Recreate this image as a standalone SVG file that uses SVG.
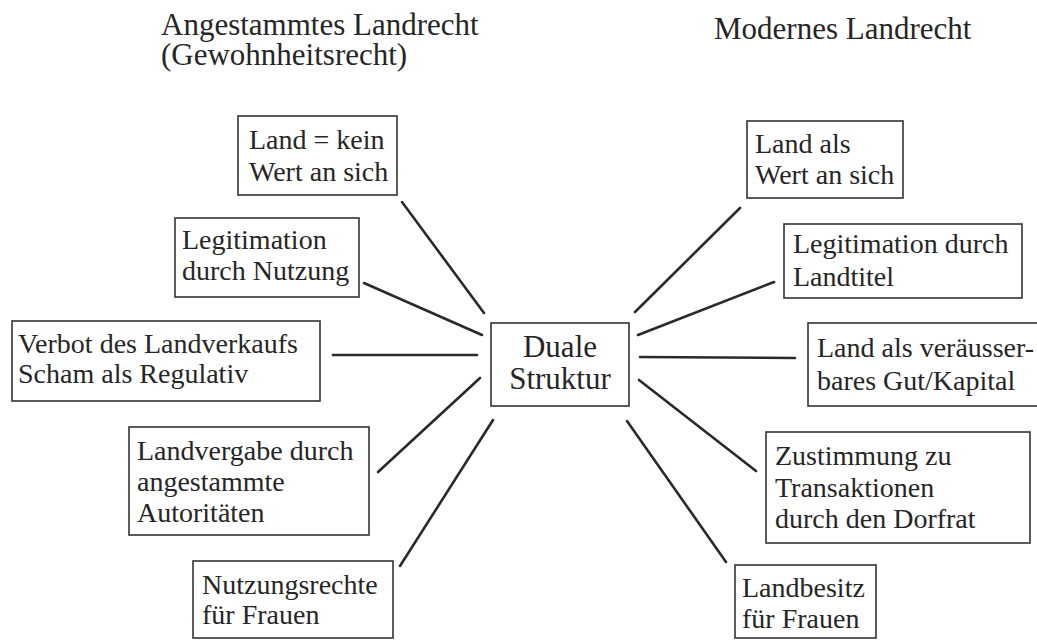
<svg xmlns="http://www.w3.org/2000/svg" width="1037" height="640" viewBox="0 0 1037 640" font-family="'Liberation Serif', 'DejaVu Serif', Tinos, 'Times New Roman', Times, serif">
<style>
text{font-family:'Liberation Serif','DejaVu Serif',Tinos,'Times New Roman',Times,serif;fill:#262626}
.t{font-size:28px}
.h{font-size:31px}
.c{font-size:31px;text-anchor:middle}
rect{fill:#fff;stroke:#333;stroke-width:1.6}
#connectors line{stroke:#2a2a2a;stroke-width:2.6;stroke-linecap:round}
</style>
<rect x="0" y="0" width="1037" height="640" style="stroke:none;fill:#fff"/>
<g id="titles">
<text class="h" x="161" y="35">Angestammtes Landrecht</text>
<text class="h" x="161" y="65">(Gewohnheitsrecht)</text>
<text class="h" x="714" y="39">Modernes Landrecht</text>
</g>
<g id="connectors">
<line x1="402" y1="202" x2="484" y2="313"/>
<line x1="364" y1="283" x2="482" y2="335"/>
<line x1="333" y1="355" x2="477" y2="355"/>
<line x1="378" y1="472" x2="480" y2="378"/>
<line x1="400" y1="566" x2="493" y2="420"/>
<line x1="740" y1="208" x2="635" y2="312"/>
<line x1="774" y1="282" x2="638" y2="335"/>
<line x1="640" y1="357" x2="795" y2="358"/>
<line x1="639" y1="380" x2="756" y2="471"/>
<line x1="627" y1="421" x2="726" y2="562"/>
</g>
<g id="center">
<rect x="491" y="323" width="138" height="83"/>
<text class="c" x="560" y="357">Duale</text>
<text class="c" x="560" y="389">Struktur</text>
</g>
<g id="l1">
<rect x="238" y="116" width="159" height="79"/>
<text class="t" x="249" y="149">Land = kein</text>
<text class="t" x="249" y="181">Wert an sich</text>
</g>
<g id="l2">
<rect x="175" y="218" width="184" height="79"/>
<text class="t" x="182" y="249">Legitimation</text>
<text class="t" x="182" y="280">durch Nutzung</text>
</g>
<g id="l3">
<rect x="12" y="321" width="308" height="80"/>
<text class="t" x="18" y="353">Verbot des Landverkaufs</text>
<text class="t" x="18" y="383">Scham als Regulativ</text>
</g>
<g id="l4">
<rect x="129" y="427" width="240" height="108"/>
<text class="t" x="137" y="460">Landvergabe durch</text>
<text class="t" x="137" y="491">angestammte</text>
<text class="t" x="137" y="522">Autoritäten</text>
</g>
<g id="l5">
<rect x="193" y="561" width="200" height="77"/>
<text class="t" x="202" y="594">Nutzungsrechte</text>
<text class="t" x="202" y="624">für Frauen</text>
</g>
<g id="r1">
<rect x="747" y="121" width="156" height="77"/>
<text class="t" x="755" y="153">Land als</text>
<text class="t" x="755" y="184">Wert an sich</text>
</g>
<g id="r2">
<rect x="784" y="224" width="238" height="74"/>
<text class="t" x="793" y="253">Legitimation durch</text>
<text class="t" x="793" y="286">Landtitel</text>
</g>
<g id="r3">
<rect x="808" y="323" width="240" height="83"/>
<text class="t" x="817" y="357">Land als veräusser-</text>
<text class="t" x="817" y="390">bares Gut/Kapital</text>
</g>
<g id="r4">
<rect x="766" y="432" width="264" height="111"/>
<text class="t" x="775" y="465">Zustimmung zu</text>
<text class="t" x="775" y="497">Transaktionen</text>
<text class="t" x="775" y="528">durch den Dorfrat</text>
</g>
<g id="r5">
<rect x="735" y="565" width="141" height="73"/>
<text class="t" x="742" y="597">Landbesitz</text>
<text class="t" x="742" y="628">für Frauen</text>
</g>
</svg>
